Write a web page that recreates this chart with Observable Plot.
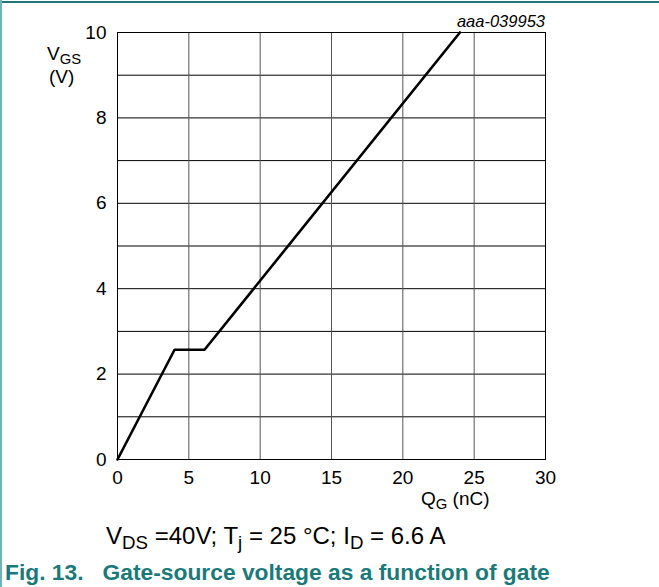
<!DOCTYPE html>
<html><head><meta charset="utf-8">
<script src="https://cdn.jsdelivr.net/npm/d3@7"></script>
<script src="https://cdn.jsdelivr.net/npm/@observablehq/plot@0.6"></script>
<style>
body{margin:0;background:#fff;font-family:"Liberation Sans",Arial,sans-serif}
#wrap{position:relative;width:659px;height:587px;overflow:hidden;background:#fff}
#wrap svg{position:absolute;left:0;top:0}
#wrap svg text{font-size:19px;font-family:"Liberation Sans",Arial,sans-serif}
.t{position:absolute;white-space:nowrap;color:#000;line-height:1}
.t sub{font-size:0.78em;vertical-align:-0.28em;line-height:0}
#lb{position:absolute;left:0;top:0;width:2px;height:587px;background:#6fb3b3}
#tb{position:absolute;left:2px;top:1px;width:657px;height:2px;background:#1f7676}
</style></head><body><div id="wrap"><div id="lb"></div><div id="tb"></div></div>
<script>
const qg = [0, 4, 6.1, 24];
const vgs = [0, 2.57, 2.57, 10];
const xTicks = [0, 5, 10, 15, 20, 25, 30];
const yTicks = [0, 2, 4, 6, 8, 10];
const yGrid = [0,1,2,3,4,5,6,7,8,9,10];
const xGrid = [0,5,10,15,20,25,30];

const data = qg.map((q, i) => ({q, v: vgs[i]}));
const font = '"Liberation Sans",Arial,sans-serif';
const chart = Plot.plot({
  width: 659, height: 587,
  marginLeft: 117, marginRight: 114, marginTop: 32, marginBottom: 128,
  style: {fontFamily: font, fontSize: "19px", color: "#000", background: "transparent"},
  x: {domain: [0, 30], axis: null},
  y: {domain: [0, 10], axis: null},
  marks: [
    Plot.ruleY(yGrid, {stroke: "#000", strokeWidth: 1}),
    Plot.ruleX(xGrid, {stroke: "#555", strokeWidth: 1}),
    Plot.frame({stroke: "#000", strokeWidth: 1}),
    Plot.text(xTicks, {x: d => d, frameAnchor: "bottom", lineAnchor: "top", dy: 11, fontSize: 19, fill: "#000", text: d => String(d)}),
    Plot.text(yTicks, {y: d => d, frameAnchor: "left", textAnchor: "end", dx: -11, fontSize: 19, fill: "#000", text: d => String(d)}),
    Plot.line(data, {x: "q", y: "v", stroke: "#000", strokeWidth: 2.6, strokeLinejoin: "miter"})
  ]
});
const wrap = document.getElementById("wrap");
wrap.appendChild(chart);
function add(html, css){const d=document.createElement("div");d.className="t";d.innerHTML=html;Object.assign(d.style,css);wrap.appendChild(d);}
add("V<sub>GS</sub>", {left:"47px", top:"44px", fontSize:"19px"});
add("(V)", {left:"49px", top:"67px", fontSize:"19px"});
add("Q<sub>G</sub> (nC)", {left:"421px", top:"489px", fontSize:"19px"});
add("aaa-039953", {right:"114px", top:"13px", fontSize:"16.5px", fontStyle:"italic"});
add("V<sub>DS</sub> =40V; T<sub>j</sub> = 25 °C; I<sub>D</sub> = 6.6 A", {left:"106px", top:"524px", fontSize:"24px"});
add("Fig. 13.&nbsp;&nbsp; Gate-source voltage as a function of gate", {left:"5px", top:"561px", fontSize:"22.8px", fontWeight:"bold", color:"#1a7a7a"});
</script>
</body></html>
